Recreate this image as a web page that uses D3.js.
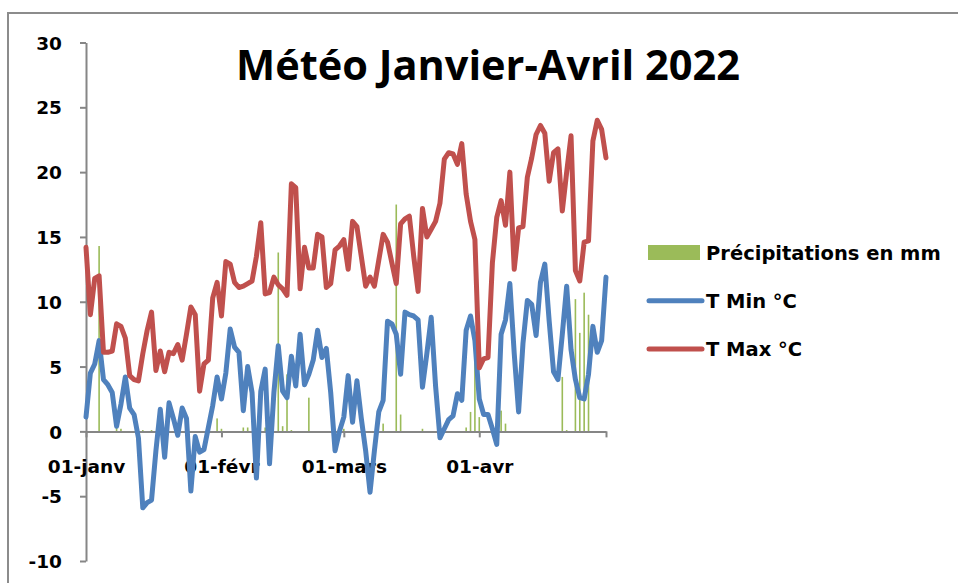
<!DOCTYPE html>
<html>
<head>
<meta charset="utf-8">
<script src="https://cdn.jsdelivr.net/npm/d3@7"></script>
<style>
  body { margin: 0; background: #fff; }
  text { font-family: "DejaVu Sans", sans-serif; font-weight: bold; fill: #000; }
</style>
</head>
<body>
<div id="chart-container"></div>
<script>
// daily values, 1 Jan 2022 -> 30 Apr 2022 (120 days)
const tMax = [
  14.2, 9.0, 11.8, 12.0, 6.1, 6.1, 6.2, 8.3, 8.1, 7.2,
  4.3, 4.0, 3.9, 6.0, 7.8, 9.2, 4.7, 6.2, 4.6, 6.1,
  6.0, 6.7, 5.5, 7.5, 9.6, 9.0, 3.1, 5.2, 5.5, 10.3,
  11.5, 8.9, 13.1, 12.9, 11.5, 11.1, 11.2, 11.4, 11.6, 13.5,
  16.1, 10.6, 10.7, 11.9, 11.3, 11.0, 10.5, 19.1, 18.8, 11.0,
  14.2, 12.6, 12.6, 15.2, 15.0, 11.1, 11.4, 14.0, 14.3, 14.8,
  12.5, 16.2, 15.8, 13.5, 11.2, 11.9, 11.2, 13.2, 15.2, 14.6,
  13.0, 11.4, 16.0, 16.4, 16.6, 13.5, 10.8, 17.2, 15.0, 15.6,
  16.2, 17.6, 21.0, 21.5, 21.4, 20.6, 22.2, 18.3, 16.2, 14.8,
  4.9, 5.6, 5.7, 13.0, 16.5, 17.8, 15.9, 20.0, 12.5, 15.7,
  15.8, 19.6, 21.1, 22.9, 23.6, 23.0, 19.3, 21.5, 21.8, 17.0,
  20.0, 22.8, 12.4, 11.6, 14.6, 14.7, 22.4, 24.0, 23.3, 21.1
];
const tMin = [
  1.1, 4.5, 5.2, 7.0, 4.0, 3.6, 3.0, 0.4, 2.1, 4.2,
  1.8, 1.3, -0.5, -5.9, -5.5, -5.3, -1.5, 1.7, -2.0, 2.2,
  1.0, -0.3, 1.8, 1.0, -4.6, -0.4, -1.6, -1.4, 0.3, 2.0,
  4.2, 2.5, 4.5, 7.9, 6.5, 6.1, 1.6, 5.0, 3.0, -3.6,
  3.1, 4.8, -2.5, 3.0, 6.6, 3.1, 2.6, 5.8, 3.5, 7.5,
  3.6, 4.4, 5.5, 7.8, 5.7, 6.4, 3.0, -1.5, 0.0, 1.1,
  4.3, 0.7, 3.9, 1.0, -1.5, -4.7, -1.5, 1.5, 2.4, 8.5,
  8.3, 7.5, 4.4, 9.2, 9.0, 8.9, 8.6, 3.4, 6.0, 8.8,
  3.5, -0.5, 0.2, 0.9, 1.2, 2.9, 2.4, 7.8, 8.9, 7.0,
  2.5, 1.3, 1.3, 0.2, -1.0, 7.5, 8.6, 11.4, 6.0, 1.5,
  6.8, 10.1, 9.8, 7.4, 11.5, 12.9, 8.5, 4.6, 4.0, 7.5,
  11.2, 6.3, 4.0, 2.6, 2.5, 4.4, 8.1, 6.1, 7.0, 11.9
];
// rainy days only: day index from 1 Jan, mm
const rainDay = [3, 7, 8, 13, 15, 30, 31, 36, 37, 41, 44, 45, 46, 47, 51, 59, 68, 71, 72, 77, 87, 88, 89, 90, 95, 96, 109, 110, 112, 113, 114, 115];
const rainMm  = [14.3, 0.5, 0.2, 0.1, 0.1, 1.0, 0.2, 0.3, 0.3, 0.3, 13.8, 0.4, 4.4, 0.1, 2.6, 0.2, 0.6, 17.5, 1.3, 0.2, 0.3, 1.5, 5.3, 1.1, 1.6, 0.6, 4.2, 0.1, 10.2, 7.6, 10.7, 9.0];

const yTicks = [-10, -5, 0, 5, 10, 15, 20, 25, 30];
const monthLabels = ["01-janv", "01-févr", "01-mars", "01-avr"];
const seriesNames = ["Précipitations en mm", "T Min °C", "T Max °C"];

const colors = { rain: "#9bbb59", min: "#4f81bd", max: "#c0504d", axis: "#868686" };

const svgWidth = 958, svgHeight = 583;

const day = (i) => new Date(2022, 0, 1 + i);

const svg = d3.select("#chart-container").append("svg")
    .attr("width", svgWidth)
    .attr("height", svgHeight);

// chart frame
svg.append("rect")
    .attr("x", 8).attr("y", 13)
    .attr("width", 1000).attr("height", 700)
    .attr("fill", "none")
    .attr("stroke", "#8c8c8c")
    .attr("stroke-width", 2);

const x = d3.scaleTime()
    .domain([day(0), day(119)])
    .range([86, 606]);
const y = d3.scaleLinear()
    .domain([-10, 30])
    .range([561, 42.5]);

// title
svg.append("text")
    .attr("x", 488).attr("y", 80)
    .attr("text-anchor", "middle")
    .style("font-family", "'Open Sans', sans-serif")
    .style("font-size", "41.5px")
    .text("Météo Janvier-Avril 2022");

// precipitation bars
svg.append("g").selectAll("rect")
    .data(rainDay.map((d, i) => ({ date: day(d), mm: rainMm[i] })))
    .join("rect")
    .attr("x", (d) => x(d.date) - 0.8)
    .attr("width", 1.6)
    .attr("y", (d) => y(d.mm))
    .attr("height", (d) => y(0) - y(d.mm))
    .attr("fill", colors.rain);

// y axis
const yAxis = svg.append("g")
    .attr("transform", "translate(86,0)")
    .call(d3.axisLeft(y).tickValues(yTicks).tickSize(6).tickSizeOuter(0)
        .tickFormat((d) => String(d)));

// x axis on the zero line
const xTickDates = [day(0), day(31), day(59), day(90), day(119)];
const xAxis = svg.append("g")
    .attr("transform", `translate(0,${y(0)})`)
    .call(d3.axisBottom(x).tickValues(xTickDates).tickSize(6).tickSizeOuter(0)
        .tickFormat((d, i) => monthLabels[i] || ""));

[yAxis, xAxis].forEach((ax) => {
    ax.select(".domain").attr("stroke", colors.axis).attr("stroke-width", 2);
    ax.selectAll(".tick line").attr("stroke", colors.axis).attr("stroke-width", 2);
    ax.selectAll(".tick text").style("font-size", "18.5px").attr("font-family", null).attr("fill", "#000");
});
yAxis.selectAll(".tick text").attr("x", -24).attr("dy", "0.36em");
xAxis.selectAll(".tick text").attr("y", 42).attr("dy", 0);

// temperature lines
const line = d3.line()
    .x((d, i) => x(day(i)))
    .y((d) => y(d));

svg.append("path")
    .datum(tMin)
    .attr("d", line)
    .attr("fill", "none")
    .attr("stroke", colors.min)
    .attr("stroke-width", 5)
    .attr("stroke-linejoin", "round")
    .attr("stroke-linecap", "round");

svg.append("path")
    .datum(tMax)
    .attr("d", line)
    .attr("fill", "none")
    .attr("stroke", colors.max)
    .attr("stroke-width", 5)
    .attr("stroke-linejoin", "round")
    .attr("stroke-linecap", "round");

// legend
const legend = svg.append("g").attr("transform", "translate(648,0)");
const legendY = [252.5, 300.7, 349];
const legendColors = [colors.rain, colors.min, colors.max];

seriesNames.forEach((name, i) => {
    if (i === 0) {
        legend.append("rect")
            .attr("x", 0).attr("y", legendY[i] - 7.5)
            .attr("width", 52).attr("height", 15)
            .attr("fill", legendColors[i]);
    } else {
        legend.append("line")
            .attr("x1", 1).attr("x2", 54)
            .attr("y1", legendY[i]).attr("y2", legendY[i])
            .attr("stroke", legendColors[i])
            .attr("stroke-width", 5)
            .attr("stroke-linecap", "round");
    }
    legend.append("text")
        .attr("x", 58).attr("y", legendY[i] + 7)
        .style("font-size", "19.5px")
        .text(name);
});
</script>
</body>
</html>
